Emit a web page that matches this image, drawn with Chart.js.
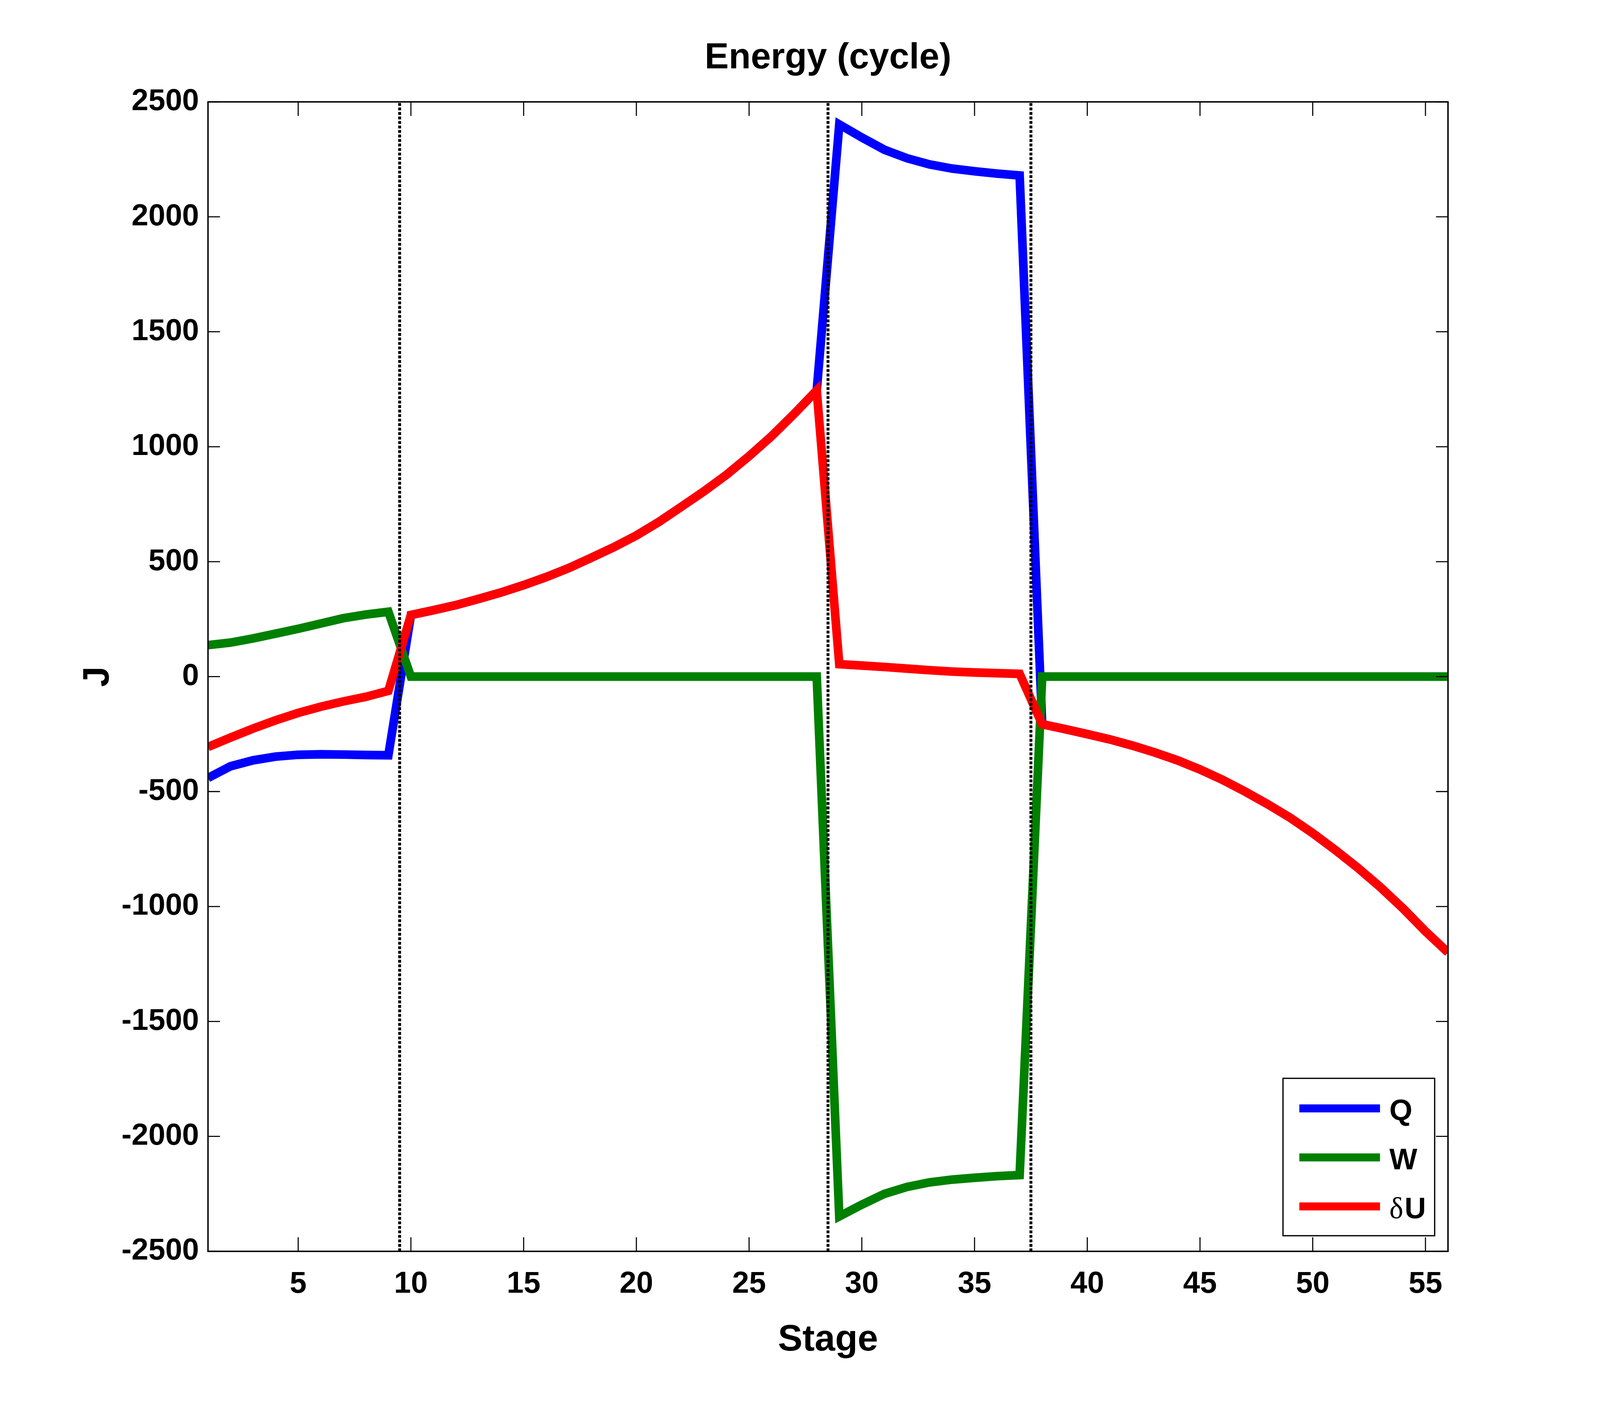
<!DOCTYPE html>
<html>
<head>
<meta charset="utf-8">
<script src="https://cdn.jsdelivr.net/npm/chart.js@4.4.1/dist/chart.umd.min.js"></script>
<style>
  html, body { margin: 0; padding: 0; background: #fff; overflow: hidden; }
  canvas { display: block; }
</style>
</head>
<body>
<canvas id="energyChart"></canvas>
<script>
// stage numbers along the cycle
const stages = [1, 2, 3, 4, 5, 6, 7, 8, 9, 10, 11, 12, 13, 14, 15, 16, 17, 18, 19, 20,
  21, 22, 23, 24, 25, 26, 27, 28, 29, 30, 31, 32, 33, 34, 35, 36, 37, 38, 39, 40,
  41, 42, 43, 44, 45, 46, 47, 48, 49, 50, 51, 52, 53, 54, 55, 56];

// heat Q (J)
const heatQ = [-441, -390, -364, -348, -340, -338, -339, -341, -342, 268,
  289, 311, 338, 366, 398, 433, 472, 517, 563, 614,
  673, 739, 806, 878, 959, 1046, 1143, 1245, 2402, 2345,
  2292, 2255, 2228, 2210, 2198, 2188, 2180, -207, -228, -250,
  -273, -300, -330, -364, -404, -449, -500, -555, -614, -681,
  -754, -832, -916, -1008, -1108, -1200];

// work W (J)
const workW = [137, 148, 166, 187, 208, 231, 254, 270, 282, 0,
  0, 0, 0, 0, 0, 0, 0, 0, 0, 0,
  0, 0, 0, 0, 0, 0, 0, 0, -2348, -2297,
  -2250, -2220, -2200, -2188, -2180, -2173, -2168, 0, 0, 0,
  0, 0, 0, 0, 0, 0, 0, 0, 0, 0,
  0, 0, 0, 0, 0, 0];

// internal energy change dU (J)
const deltaU = [-306, -265, -226, -190, -158, -131, -108, -88, -62, 268,
  289, 311, 338, 366, 398, 433, 472, 517, 563, 614,
  673, 739, 806, 878, 959, 1046, 1143, 1245, 54, 48,
  42, 35, 28, 22, 18, 15, 12, -207, -228, -250,
  -273, -300, -330, -364, -404, -449, -500, -555, -614, -681,
  -754, -832, -916, -1008, -1108, -1200];

// stage boundaries (dotted lines)
const phaseBounds = [9.5, 28.5, 37.5];

const xRange = [1, 56];
const yRange = [-2500, 2500];
const xTickValues = [5, 10, 15, 20, 25, 30, 35, 40, 45, 50, 55];
const yTickValues = [-2500, -2000, -1500, -1000, -500, 0, 500, 1000, 1500, 2000, 2500];

const SANS = '"Liberation Sans", Arial, Helvetica, sans-serif';
const SERIF = '"Liberation Serif", "Times New Roman", serif';

// layout is measured on a 4800x3600 figure and stretched to fill the window
const kx = window.innerWidth / 4800;
const ky = window.innerHeight / 3600;
const kf = Math.sqrt(kx * ky);
const sx = v => v * kx;
const sy = v => v * ky;
const sf = v => v * kf;

const canvas = document.getElementById('energyChart');
canvas.width = Math.round(4800 * kx);
canvas.height = Math.round(3600 * ky);

function toPoints(values) {
    return stages.map((st, i) => ({ x: st, y: values[i] }));
}

function seriesDataset(label, values, color, order) {
    return {
        label: label,
        data: toPoints(values),
        borderColor: color,
        backgroundColor: color,
        borderWidth: sf(24),
        pointRadius: 0,
        tension: 0,
        fill: false,
        order: order,
        inLegend: true,
    };
}

function boundDataset(xv) {
    return {
        label: 'bound ' + xv,
        data: [{ x: xv, y: yRange[0] }, { x: xv, y: yRange[1] }],
        borderColor: '#000',
        borderWidth: sf(8),
        borderDash: [sf(8), sf(4.5)],
        pointRadius: 0,
        fill: false,
        order: 0,
        inLegend: false,
    };
}

// box, inward ticks on all sides, and legend in the lower right corner
const framePlugin = {
    id: 'frame',
    afterDraw(chart) {
        const { ctx, chartArea: a, scales: { x, y } } = chart;
        ctx.save();
        ctx.strokeStyle = '#000';
        ctx.lineWidth = sf(3);
        ctx.beginPath();
        x.ticks.forEach(t => {
            const px = x.getPixelForValue(t.value);
            ctx.moveTo(px, a.bottom); ctx.lineTo(px, a.bottom - sy(36));
            ctx.moveTo(px, a.top); ctx.lineTo(px, a.top + sy(36));
        });
        y.ticks.forEach(t => {
            const py = y.getPixelForValue(t.value);
            ctx.moveTo(a.left, py); ctx.lineTo(a.left + sx(36), py);
            ctx.moveTo(a.right, py); ctx.lineTo(a.right - sx(36), py);
        });
        ctx.stroke();
        ctx.lineWidth = sf(4);
        ctx.strokeRect(a.left, a.top, a.right - a.left, a.bottom - a.top);

        // legend
        const items = chart.data.datasets.filter(d => d.inLegend);
        const boxW = sx(455), boxH = sy(403);
        const bx = a.right - sx(40) - boxW, by = a.bottom - sy(40) - boxH;
        ctx.fillStyle = '#fff';
        ctx.fillRect(bx, by, boxW, boxH);
        ctx.lineWidth = sf(3.5);
        ctx.strokeRect(bx, by, boxW, boxH);
        items.forEach((d, i) => {
            const ly = by + sy(77 + i * 125.5);
            ctx.strokeStyle = d.borderColor;
            ctx.lineWidth = sf(22);
            ctx.beginPath();
            ctx.moveTo(bx + sx(49), ly);
            ctx.lineTo(bx + sx(291), ly);
            ctx.stroke();
            ctx.fillStyle = '#000';
            ctx.textBaseline = 'alphabetic';
            ctx.textAlign = 'left';
            let tx = bx + sx(319);
            let text = d.label;
            if (text.startsWith('δ')) {
                ctx.font = sf(82) + 'px ' + SERIF;
                ctx.fillText('δ', tx, ly + sy(30));
                tx += ctx.measureText('δ').width + sx(4);
                text = text.slice(1);
            }
            ctx.font = 'bold ' + sf(82) + 'px ' + SANS;
            ctx.fillText(text, tx, ly + sy(30));
        });
        ctx.restore();
    }
};

new Chart(canvas.getContext('2d'), {
    type: 'line',
    data: {
        datasets: [
            seriesDataset('Q', heatQ, '#0000ff', 3),
            seriesDataset('W', workW, '#008000', 2),
            seriesDataset('δU', deltaU, '#ff0000', 1),
            ...phaseBounds.map(boundDataset),
        ],
    },
    options: {
        responsive: false,
        animation: false,
        layout: { padding: { left: 0, right: sx(456), top: 0, bottom: 0 } },
        plugins: {
            legend: { display: false },
            tooltip: { enabled: false },
            title: {
                display: true,
                fullSize: false,
                text: 'Energy (cycle)',
                color: '#000',
                font: { family: SANS, size: sf(100), weight: 'bold' },
                padding: { top: sy(94), bottom: sy(56) },
            },
        },
        scales: {
            x: {
                type: 'linear',
                min: xRange[0],
                max: xRange[1],
                afterBuildTicks: axis => { axis.ticks = xTickValues.map(v => ({ value: v })); },
                afterFit: axis => { axis.height = sy(396); },
                grid: { display: false, drawTicks: false },
                border: { display: false },
                ticks: {
                    color: '#000',
                    padding: sy(38),
                    maxRotation: 0,
                    font: { family: SANS, size: sf(84), weight: 'bold' },
                },
                title: {
                    display: true,
                    text: 'Stage',
                    color: '#000',
                    font: { family: SANS, size: sf(102), weight: 'bold' },
                    padding: { top: 0, bottom: sy(111) },
                },
            },
            y: {
                type: 'linear',
                min: yRange[0],
                max: yRange[1],
                afterBuildTicks: axis => { axis.ticks = yTickValues.map(v => ({ value: v })); },
                afterFit: axis => { axis.width = sx(624); },
                grid: { display: false, drawTicks: false },
                border: { display: false },
                ticks: {
                    color: '#000',
                    padding: sx(27),
                    font: { family: SANS, size: sf(84), weight: 'bold' },
                    callback: v => String(v),
                },
                title: {
                    display: true,
                    text: 'J',
                    color: '#000',
                    font: { family: SANS, size: sf(102), weight: 'bold' },
                    padding: { top: sx(229), bottom: 0 },
                },
            },
        },
    },
    plugins: [framePlugin],
});
</script>
</body>
</html>
